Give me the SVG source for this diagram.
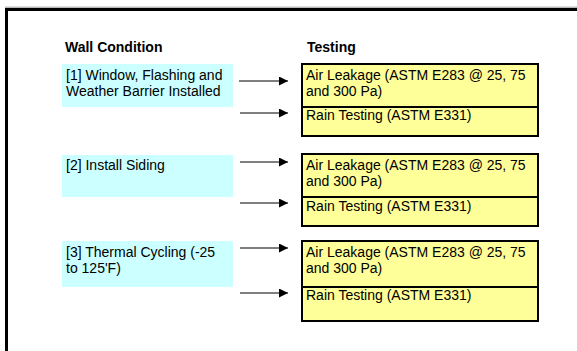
<svg xmlns="http://www.w3.org/2000/svg" width="577" height="351" viewBox="0 0 577 351">
  <style>
    text { font-family: "Liberation Sans", Arial, sans-serif; font-size: 14px; fill: #000; }
    .hdr { font-weight: bold; }
    .cond { fill: #CCFFFF; stroke: none; }
    .test { fill: #FFFF99; stroke: #000; stroke-width: 2; }
    .div { stroke: #000; stroke-width: 2; }
    .conn { stroke: #000; stroke-width: 1.2; fill: none; marker-end: url(#ah); }
    .frame { stroke: #000; stroke-width: 3; fill: none; }
  </style>
  <defs>
    <marker id="ah" viewBox="0 0 10 10" refX="10" refY="5" markerWidth="10" markerHeight="9" markerUnits="userSpaceOnUse" orient="auto">
      <path d="M0,0 L10,5 L0,10 Z" fill="#000"/>
    </marker>
  </defs>
  <rect width="577" height="351" fill="#fff"/>
  <g id="frame">
    <line x1="5" y1="7.2" x2="577" y2="7.2" stroke="#999" stroke-width="1"/>
    <path class="frame" d="M6.5,351 V9.5 H577"/>
  </g>
  <g id="headers">
    <text class="hdr" x="65" y="52">Wall Condition</text>
    <text class="hdr" x="307" y="52">Testing</text>
  </g>
  <g id="cond1">
    <rect class="cond" x="62" y="64" width="171" height="43"/>
    <text x="66" y="80">[1] Window, Flashing and</text>
    <text x="66" y="96">Weather Barrier Installed</text>
  </g>
  <g id="cond2">
    <rect class="cond" x="62" y="155" width="171" height="42"/>
    <text x="66" y="170">[2] Install Siding</text>
  </g>
  <g id="cond3">
    <rect class="cond" x="62" y="241" width="171" height="46"/>
    <text x="66" y="257">[3] Thermal Cycling (-25</text>
    <text x="66" y="273">to 125'F)</text>
  </g>
  <g id="test1">
    <rect class="test" x="302" y="64" width="236" height="72"/>
    <line class="div" x1="302" y1="107" x2="538" y2="107"/>
    <text x="306" y="80">Air Leakage (ASTM E283 @ 25, 75</text>
    <text x="306" y="96">and 300 Pa)</text>
    <text x="306" y="120">Rain Testing (ASTM E331)</text>
  </g>
  <g id="test2">
    <rect class="test" x="302" y="154" width="236" height="72"/>
    <line class="div" x1="302" y1="197" x2="538" y2="197"/>
    <text x="306" y="170">Air Leakage (ASTM E283 @ 25, 75</text>
    <text x="306" y="186">and 300 Pa)</text>
    <text x="306" y="211">Rain Testing (ASTM E331)</text>
  </g>
  <g id="test3">
    <rect class="test" x="302" y="241" width="236" height="80"/>
    <line class="div" x1="302" y1="287" x2="538" y2="287"/>
    <text x="306" y="257">Air Leakage (ASTM E283 @ 25, 75</text>
    <text x="306" y="273">and 300 Pa)</text>
    <text x="306" y="300">Rain Testing (ASTM E331)</text>
  </g>
  <g id="connectors">
    <line class="conn" x1="239" y1="81" x2="288" y2="81"/>
    <line class="conn" x1="240" y1="113" x2="288" y2="113"/>
    <line class="conn" x1="240" y1="162" x2="288" y2="162"/>
    <line class="conn" x1="240" y1="203" x2="288" y2="203"/>
    <line class="conn" x1="240" y1="248" x2="288" y2="248"/>
    <line class="conn" x1="240" y1="293" x2="288" y2="293"/>
  </g>
</svg>
